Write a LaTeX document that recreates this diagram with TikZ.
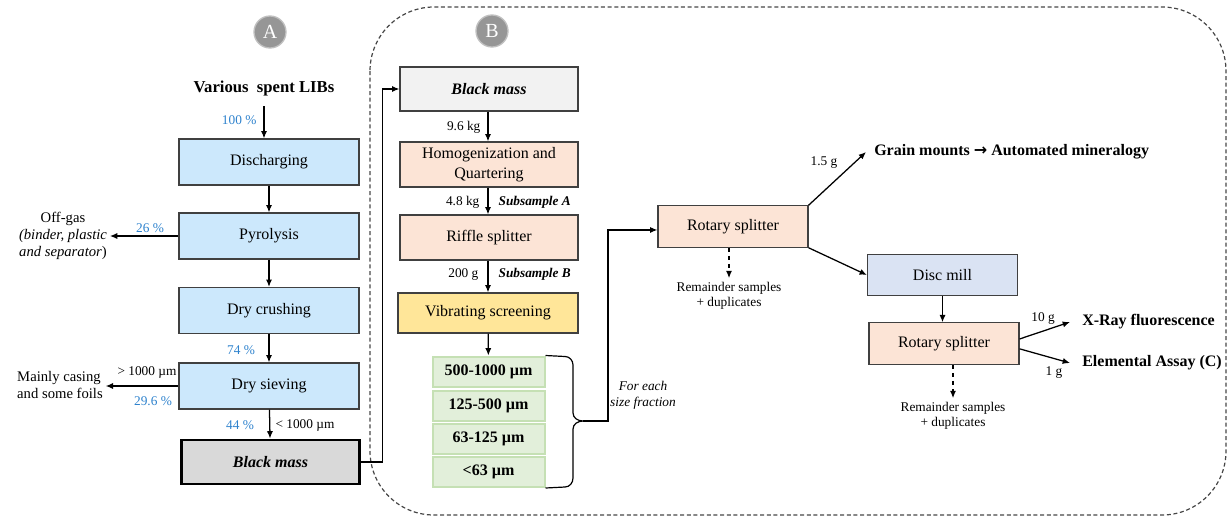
\documentclass[tikz,border=0pt]{standalone}
\usepackage{fontspec}
\setmainfont{Liberation Serif}
\newfontfamily\symfont{DejaVu Sans}
\usetikzlibrary{arrows.meta,calc}
\definecolor{bluefill}{RGB}{204,232,252}
\definecolor{peach}{RGB}{252,228,214}
\definecolor{yel}{RGB}{255,230,153}
\definecolor{grfill}{RGB}{226,239,218}
\definecolor{grline}{RGB}{197,224,180}
\definecolor{lav}{RGB}{218,227,243}
\definecolor{bmgray}{RGB}{217,217,217}
\definecolor{bmlight}{RGB}{242,242,242}
\definecolor{pctblue}{RGB}{46,130,205}
\definecolor{edge}{RGB}{64,64,64}
\definecolor{circgray}{RGB}{150,150,150}
\definecolor{dashgray}{RGB}{70,70,70}
\begin{document}
\begin{tikzpicture}[x=0.75pt,y=-0.75pt,
  box/.style={draw=edge,line width=0.9pt,align=center,inner sep=1pt,font=\fontsize{12}{15}\selectfont},
  abox/.style={box,fill=bluefill,minimum width=135pt,minimum height=34.5pt},
  bbox/.style={box,minimum width=133.5pt,minimum height=33.75pt},
  rbox/.style={box,minimum width=112.5pt,minimum height=31pt},
  gbox/.style={draw=grline,fill=grfill,line width=1.5pt,minimum width=84pt,minimum height=22.5pt,inner sep=1pt,font=\bfseries\fontsize{12}{14}\selectfont},
  lbl/.style={inner sep=1pt,font=\fontsize{10}{12}\selectfont},
  pct/.style={lbl,text=pctblue},
  sublbl/.style={inner sep=1pt,font=\bfseries\itshape\fontsize{10}{12}\selectfont},
  side/.style={inner sep=2pt,font=\fontsize{11}{13}\selectfont},
  small/.style={inner sep=3pt,align=center,font=\fontsize{10}{11.3}\selectfont},
  outbold/.style={inner sep=2pt,font=\bfseries\fontsize{12}{14}\selectfont},
  arr/.style={draw=black,line width=0.95pt,-{Latex[length=5.5pt,width=4.6pt]}},
  circlab/.style={circle,fill=circgray,draw=circgray!60!white,line width=1pt,minimum size=24pt,inner sep=0pt,text=white,font=\fontsize{15}{15}\selectfont}
]
\useasboundingbox (0,0) rectangle (1230,518);

% dashed region B
\draw[dashgray,line width=0.9pt,dash pattern=on 3pt off 2pt,rounded corners=48pt] (370,7) rectangle (1226,515);

% circles
\node[circlab] (cA) at (270,32) {A};
\node[circlab] (cB) at (492,31) {B};

% ---------- column A ----------
\node[inner sep=2pt,font=\bfseries\fontsize{12.5}{15}\selectfont] (libs) at (264,88) {Various\ \ spent LIBs};
\node[abox] (dis) at (269,162) {Discharging};
\node[abox] (pyr) at (269,236) {Pyrolysis};
\node[abox] (cru) at (269,310.5) {Dry crushing};
\node[abox] (sie) at (269,386) {Dry sieving};
\node[box,fill=bmgray,draw=black,line width=2.2pt,minimum width=134pt,minimum height=33pt,font=\bfseries\itshape\fontsize{12}{15}\selectfont] (bmA) at (270.5,462) {Black mass};

\draw[arr] ([yshift=-6pt]libs.south) -- (libs.south |- dis.north);
\node[pct,anchor=east] at (258,120) {100 \%};
\draw[arr] (dis) -- (pyr);
\draw[arr] (pyr) -- (cru);
\draw[arr] (cru) -- (sie);
\node[pct] at (241,350) {74 \%};
\draw[arr] (sie) -- (bmA);
\node[pct] at (240,425) {44 \%};
\node[lbl] at (305,425) {< 1000 µm};

\node[side,align=center] (off) at (63,236) {Off-gas\\\textit{(binder, plastic}\\\textit{and separator})};
\draw[arr] (pyr.west) -- (off.east |- pyr.west);
\node[pct] at (150,228) {26 \%};

\node[side,align=left] (cas) at (60,385) {Mainly casing\\and some foils};
\draw[arr] (sie.west) -- (cas.east |- sie.west);
\node[lbl] at (147,372) {> 1000 µm};
\node[pct] at (153,401) {29.6 \%};

% ---------- column B ----------
\node[bbox,fill=bmlight,minimum height=33pt,font=\bfseries\itshape\fontsize{12}{15}\selectfont] (bmB) at (489,89) {Black mass};
\node[bbox,fill=peach] (hom) at (489,164.5) {Homogenization and\\Quartering};
\node[bbox,fill=peach] (rif) at (489,237.5) {Riffle splitter};
\node[bbox,fill=yel,minimum width=135pt,minimum height=30pt] (vib) at (488,313) {Vibrating screening};

\draw[arr] (bmA.east) -- ++(21,0) |- (bmB.west);

\draw[arr] (bmB.south -| 488,0) -- (hom.north -| 488,0);
\node[lbl,anchor=east] at (482,127) {9.6 kg};
\draw[arr] (hom.south -| 488,0) -- (rif.north -| 488,0);
\node[lbl,anchor=east] at (481,202) {4.8 kg};
\node[sublbl,anchor=west] at (497,202) {Subsample A};
\draw[arr] (rif.south -| 488,0) -- (vib.north -| 488,0);
\node[lbl,anchor=east] at (480,274) {200 g};
\node[sublbl,anchor=west] at (497,274) {Subsample B};

\node[gbox] (g1) at (488.5,371.5) {500-1000 µm};
\node[gbox] (g2) at (488.5,405.5) {125-500 µm};
\node[gbox] (g3) at (488.5,439) {63-125 µm};
\node[gbox] (g4) at (488.5,472) {<63 µm};
\draw[arr] (vib) -- (g1);

% brace
\coordinate (tip) at (583,421);
\draw[black,line width=0.9pt] (g1.north east) -- (565,356.5) to[out=0,in=90] (573,365) -- (573,413) to[out=-90,in=180] (tip) to[out=180,in=90] (573,429) -- (573,478) to[out=-90,in=0] (565,487) -- (g4.south east);
\node[lbl,align=center,font=\itshape\fontsize{10}{12}\selectfont] (each) at (643,395) {For each\\size fraction};

% ---------- analysis chain ----------
\node[rbox,fill=peach] (rs1) at (733,226.5) {Rotary splitter};
\draw[arr] (tip) -- (608,421) |- ([yshift=-2.6pt]rs1.west);

\node[outbold,anchor=west,inner xsep=6pt] (grain) at (866,152) {Grain mounts {\symfont\bfseries →} Automated mineralogy};
\draw[arr] (rs1.north east) -- (grain.west);
\node[lbl] at (824,163) {1.5 g};

\node[small] (rem1) at (729,296) {Remainder samples\\+ duplicates};
\draw[arr,dashed] (rs1.south -| rem1) -- (rem1.north);

\node[rbox,fill=lav] (disc) at (942.5,275) {Disc mill};
\draw[arr] (rs1.south east) -- (disc.west);

\node[rbox,fill=peach] (rs2) at (944,343.5) {Rotary splitter};
\draw[arr] (disc.south) -- (disc.south |- rs2.north);

\node[outbold,anchor=west,inner xsep=9pt] (xrf) at (1070,322) {X-Ray fluorescence};
\node[outbold,anchor=west,inner xsep=9pt] (ea) at (1070,363) {Elemental Assay (C)};
\draw[arr] ([yshift=3.4pt]rs2.east) -- (xrf.west);
\draw[arr] ([yshift=-4pt]rs2.east) -- (ea.west);
\node[lbl] at (1043,318) {10 g};
\node[lbl] at (1054,373) {1 g};

\node[small] (rem2) at (953,416) {Remainder samples\\+ duplicates};
\draw[arr,dashed] (rs2.south -| rem2) -- (rem2.north);
\end{tikzpicture}
\end{document}
